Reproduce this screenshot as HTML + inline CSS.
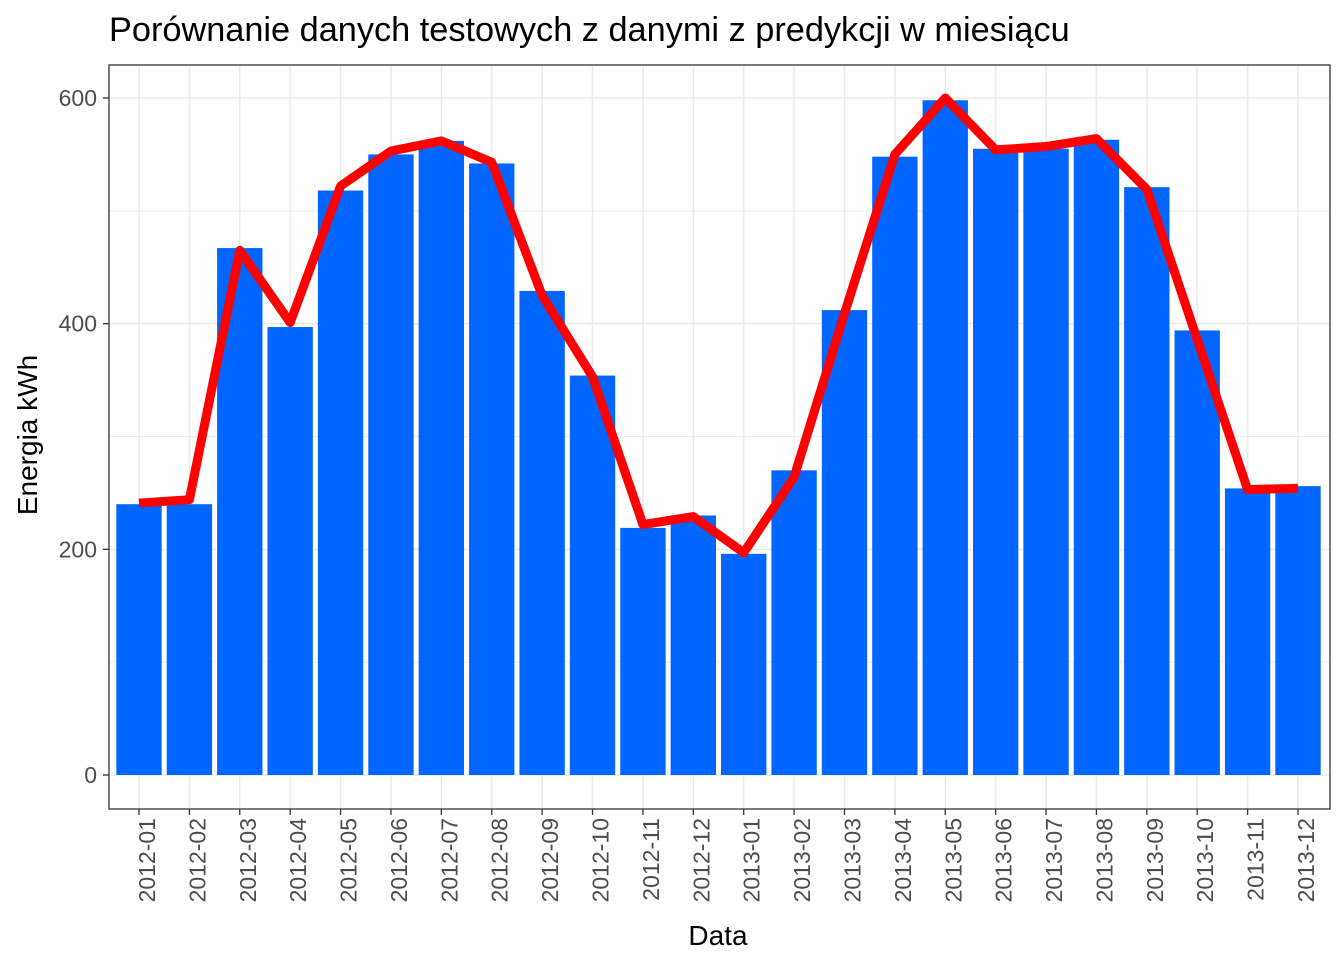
<!DOCTYPE html>
<html><head><meta charset="utf-8"><style>
html,body{margin:0;padding:0;background:#fff;}
svg{display:block;font-family:"Liberation Sans",sans-serif;}
</style></head><body>
<svg id="chart" width="1344" height="960">
<rect width="1344" height="960" fill="#fff"/>
<text x="109" y="41" font-size="34.3" fill="#000">Porównanie danych testowych z danymi z predykcji w miesiącu</text>
<g id="grid"></g>
<g id="bars"></g>
<g id="line"></g>
<rect x="109" y="65" width="1221" height="744" fill="none" stroke="#333" stroke-width="1.3"/>
<g id="axes"></g>
<text x="718" y="945" font-size="28" text-anchor="middle" fill="#000">Data</text>
<text transform="translate(37,435) rotate(-90)" font-size="28" text-anchor="middle" fill="#000">Energia kWh</text>
</svg>
<script>
const categories=["2012-01","2012-02","2012-03","2012-04","2012-05","2012-06","2012-07","2012-08","2012-09","2012-10","2012-11","2012-12","2013-01","2013-02","2013-03","2013-04","2013-05","2013-06","2013-07","2013-08","2013-09","2013-10","2013-11","2013-12"];
const testValues=[240,240,467,397,518,550,562,542,429,354,219,230,196,270,412,548,598,555,555,563,521,394,254,256];
const predValues=[241,244,465,401,522,553,562,543,425,353,222,229,197,264,409,550,600,554,557,564,519,386,253,254];
const yTicks=[0,200,400,600];
const yMinor=[100,300,500];
const NS="http://www.w3.org/2000/svg";
const y=v=>775-v*(677/600);
const step=(1298-139)/23;
const x=i=>139+i*step;
function mk(tag,attrs,parent){const e=document.createElementNS(NS,tag);for(const k in attrs)e.setAttribute(k,attrs[k]);document.getElementById(parent).appendChild(e);return e;}
yMinor.forEach(v=>{const l=mk('line',{x1:109,x2:1330,y1:y(v),y2:y(v),stroke:'#ebebeb','stroke-width':1},'grid');

});
yTicks.forEach(v=>{const l=mk('line',{x1:109,x2:1330,y1:y(v),y2:y(v),stroke:'#ebebeb','stroke-width':1.5},'grid');


const t=mk('line',{x1:103,x2:109,y1:y(v),y2:y(v),stroke:'#333','stroke-width':1.3},'axes');


const tx=mk('text',{x:97,y:y(v)+8,'font-size':23,'text-anchor':'end',fill:'#4d4d4d'},'axes');
tx.textContent=v;

});
categories.forEach((c,i)=>{const g=mk('line',{x1:x(i),x2:x(i),y1:65,y2:809,stroke:'#ebebeb','stroke-width':1.5},'grid');


const b=mk('rect',{x:x(i)-step*0.45,y:y(testValues[i]),width:step*0.9,height:y(0)-y(testValues[i]),fill:'#0066ff'},'bars');


const t=mk('line',{x1:x(i),x2:x(i),y1:809,y2:815,stroke:'#333','stroke-width':1.3},'axes');


const tx=mk('text',{transform:`translate(${x(i)+16},818) rotate(-90)`,'font-size':23,'text-anchor':'end',fill:'#4d4d4d'},'axes');
tx.textContent=c;

});
const p=mk('polyline',{points:predValues.map((v,i)=>x(i)+','+y(v)).join(' '),fill:'none',stroke:'#ff0000','stroke-width':9,'stroke-linejoin':'round'},'line');


</script>
</body></html>
